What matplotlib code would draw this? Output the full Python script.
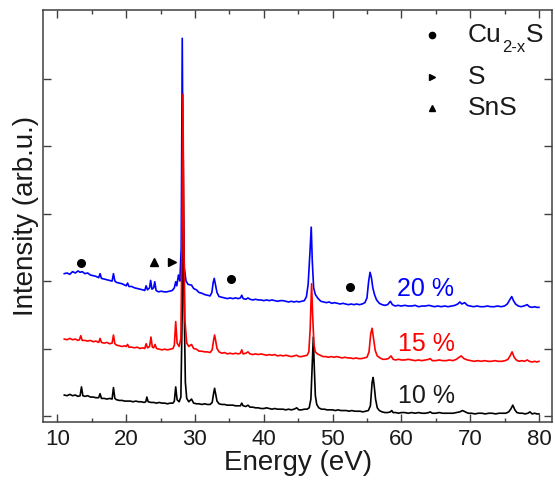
import matplotlib
matplotlib.use("Agg")
import matplotlib.pyplot as plt

plt.rcParams['font.family'] = ['Liberation Sans', 'DejaVu Sans']

# ---------------- data ----------------
black_x = [11.0, 11.4, 11.8, 12.2, 12.6, 13.0, 13.3, 13.5, 13.7, 14.0, 14.4, 14.8, 15.2, 15.6, 16.0, 16.2, 16.4,
           16.8, 17.2, 17.6, 17.95, 18.15, 18.35, 18.6, 19.0, 19.4, 19.8, 20.2, 20.6, 21.0, 21.4, 21.8, 22.2,
           22.6, 22.85, 23.0, 23.2, 23.6, 24.0, 24.4, 24.8, 25.2, 25.6, 26.0, 26.4, 26.8, 27.0, 27.2, 27.4,
           27.7, 27.95, 28.15, 28.3, 28.45, 28.6, 28.8, 29.1, 29.5, 29.8, 30.2, 30.6, 31.0, 31.4, 31.8, 32.2,
           32.5, 32.7, 32.85, 33.0, 33.2, 33.5, 33.9, 34.3, 34.7, 35.1, 35.5, 35.9, 36.3, 36.6, 36.8, 37.0,
           37.4, 37.7, 38.0, 38.4, 38.8, 39.2, 39.6, 40.0, 40.4, 40.8, 41.2, 41.6, 42.0, 42.4, 42.8, 43.2,
           43.6, 44.0, 44.4, 44.8, 45.1, 45.5, 45.9, 46.3, 46.6, 46.85, 47.05, 47.2, 47.35, 47.5, 47.7, 48.0,
           48.4, 48.8, 49.2, 49.6, 50.0, 50.4, 50.8, 51.2, 51.6, 52.0, 52.4, 52.8, 53.2, 53.6, 54.0, 54.4,
           54.8, 55.2, 55.5, 55.75, 55.9, 56.05, 56.25, 56.5, 56.8, 57.2, 57.6, 58.0, 58.4, 58.6, 58.8, 59.2,
           59.6, 60.0, 60.5, 61.0, 61.5, 62.0, 62.5, 63.0, 63.5, 64.0, 64.2, 64.5, 65.0, 65.5, 66.0, 66.5,
           67.0, 67.5, 68.0, 68.5, 68.9, 69.3, 69.7, 70.2, 70.7, 71.2, 71.7, 72.2, 72.7, 73.2, 73.7, 74.2,
           74.7, 75.2, 75.6, 75.9, 76.2, 76.5, 76.8, 77.2, 77.6, 78.0, 78.4, 78.7, 79.0, 79.4, 79.7, 80.0]
black_y = [0.31, 0.30, 0.32, 0.30, 0.31, 0.29, 0.30, 0.43, 0.30, 0.29, 0.30, 0.28, 0.28, 0.27, 0.27, 0.33, 0.26,
           0.26, 0.25, 0.26, 0.25, 0.42, 0.26, 0.24, 0.23, 0.23, 0.22, 0.22, 0.22, 0.21, 0.22, 0.21, 0.21,
           0.20, 0.21, 0.28, 0.21, 0.20, 0.20, 0.19, 0.20, 0.19, 0.19, 0.18, 0.19, 0.19, 0.22, 0.43, 0.24,
           0.21, 0.28, 1.60, 3.80, 1.50, 0.50, 0.26, 0.21, 0.25, 0.19, 0.18, 0.18, 0.17, 0.18, 0.17, 0.17,
           0.20, 0.33, 0.41, 0.33, 0.22, 0.18, 0.17, 0.17, 0.16, 0.16, 0.16, 0.15, 0.15, 0.15, 0.19, 0.15,
           0.14, 0.16, 0.13, 0.13, 0.12, 0.12, 0.11, 0.11, 0.12, 0.11, 0.10, 0.11, 0.10, 0.10, 0.10, 0.09,
           0.10, 0.09, 0.10, 0.12, 0.09, 0.09, 0.10, 0.10, 0.12, 0.25, 0.80, 1.17, 0.70, 0.30, 0.17, 0.12,
           0.10, 0.10, 0.09, 0.09, 0.09, 0.08, 0.09, 0.08, 0.08, 0.08, 0.07, 0.08, 0.07, 0.07, 0.07, 0.06,
           0.07, 0.08, 0.15, 0.50, 0.57, 0.45, 0.25, 0.12, 0.08, 0.06, 0.05, 0.05, 0.06, 0.08, 0.05, 0.05,
           0.04, 0.05, 0.05, 0.04, 0.05, 0.04, 0.05, 0.04, 0.04, 0.05, 0.06, 0.04, 0.04, 0.05, 0.04, 0.04,
           0.04, 0.04, 0.05, 0.06, 0.08, 0.06, 0.04, 0.04, 0.03, 0.04, 0.04, 0.03, 0.04, 0.04, 0.03, 0.04,
           0.04, 0.04, 0.06, 0.10, 0.16, 0.09, 0.05, 0.04, 0.04, 0.03, 0.04, 0.06, 0.03, 0.04, 0.03, 0.03]

red_x = [11.0, 11.4, 11.8, 12.2, 12.6, 13.0, 13.2, 13.4, 13.6, 14.0, 14.4, 14.8, 15.2, 15.6, 16.0, 16.2, 16.4,
         16.8, 17.2, 17.6, 17.95, 18.15, 18.35, 18.6, 19.0, 19.4, 19.8, 20.0, 20.2, 20.4, 20.8, 21.2, 21.6,
         22.0, 22.4, 22.7, 22.9, 23.1, 23.4, 23.6, 23.8, 24.0, 24.2, 24.4, 24.8, 25.2, 25.6, 26.0, 26.4,
         26.8, 27.0, 27.2, 27.4, 27.7, 27.95, 28.1, 28.25, 28.4, 28.55, 28.8, 29.1, 29.5, 29.8, 30.2, 30.6,
         31.0, 31.4, 31.8, 32.2, 32.5, 32.7, 32.85, 33.0, 33.2, 33.5, 33.9, 34.3, 34.7, 35.1, 35.5, 35.9,
         36.3, 36.6, 36.8, 37.0, 37.4, 37.7, 38.0, 38.4, 38.8, 39.2, 39.6, 40.0, 40.4, 40.8, 41.2, 41.6,
         42.0, 42.4, 42.8, 43.2, 43.6, 44.0, 44.4, 44.8, 45.1, 45.5, 45.9, 46.3, 46.55, 46.75, 46.95, 47.1,
         47.3, 47.5, 47.8, 48.2, 48.6, 49.0, 49.4, 49.8, 50.2, 50.6, 51.0, 51.4, 51.8, 52.2, 52.6, 53.0,
         53.4, 53.8, 54.2, 54.6, 55.0, 55.3, 55.55, 55.75, 55.95, 56.2, 56.5, 56.9, 57.3, 57.7, 58.1, 58.5,
         58.8, 59.2, 59.6, 60.0, 60.5, 61.0, 61.5, 62.0, 62.5, 63.0, 63.5, 64.0, 64.2, 64.5, 65.0, 65.5,
         66.0, 66.5, 67.0, 67.5, 68.0, 68.4, 68.7, 69.1, 69.6, 70.1, 70.6, 71.1, 71.6, 72.1, 72.6, 73.1,
         73.6, 74.1, 74.6, 75.1, 75.5, 75.8, 76.1, 76.4, 76.7, 77.1, 77.5, 77.9, 78.3, 78.6, 79.0, 79.4,
         79.7, 80.0]
red_y = [1.14, 1.13, 1.15, 1.13, 1.14, 1.12, 1.13, 1.19, 1.12, 1.12, 1.11, 1.12, 1.10, 1.11, 1.09, 1.15, 1.09,
         1.08, 1.09, 1.07, 1.08, 1.20, 1.07, 1.05, 1.04, 1.03, 1.04, 1.03, 1.06, 1.02, 1.02, 1.01, 1.02,
         1.00, 1.01, 1.00, 1.07, 1.01, 1.03, 1.17, 1.02, 1.01, 1.06, 1.00, 0.99, 0.98, 0.99, 0.98, 0.99,
         1.00, 1.05, 1.40, 1.08, 1.03, 1.15, 2.50, 4.77, 2.40, 1.40, 1.08, 1.03, 1.06, 1.00, 0.99, 0.96,
         0.96, 0.95, 0.95, 0.94, 0.98, 1.12, 1.20, 1.12, 1.00, 0.95, 0.93, 0.94, 0.92, 0.93, 0.92, 0.93,
         0.92, 0.93, 0.98, 0.92, 0.93, 0.95, 0.92, 0.91, 0.92, 0.91, 0.92, 0.91, 0.90, 0.91, 0.90, 0.91,
         0.89, 0.90, 0.89, 0.90, 0.89, 0.88, 0.89, 0.90, 0.88, 0.88, 0.89, 0.90, 0.95, 1.30, 1.96, 1.50,
         1.05, 0.95, 0.92, 0.90, 0.88, 0.88, 0.87, 0.88, 0.87, 0.88, 0.87, 0.86, 0.87, 0.86, 0.86, 0.85,
         0.86, 0.85, 0.85, 0.86, 0.87, 0.95, 1.22, 1.30, 1.15, 0.97, 0.89, 0.86, 0.84, 0.84, 0.85, 0.89,
         0.84, 0.83, 0.84, 0.83, 0.83, 0.84, 0.83, 0.82, 0.83, 0.82, 0.83, 0.84, 0.85, 0.82, 0.82, 0.83,
         0.82, 0.82, 0.83, 0.82, 0.84, 0.87, 0.89, 0.85, 0.83, 0.82, 0.81, 0.82, 0.81, 0.82, 0.81, 0.81,
         0.82, 0.81, 0.81, 0.82, 0.84, 0.89, 0.95, 0.87, 0.83, 0.81, 0.82, 0.81, 0.83, 0.81, 0.80, 0.81,
         0.80, 0.81]

blue_x = [11.0, 11.4, 11.8, 12.2, 12.6, 13.0, 13.3, 13.6, 14.0, 14.4, 14.8, 15.2, 15.6, 16.0, 16.2, 16.4, 16.8,
          17.2, 17.6, 17.95, 18.15, 18.35, 18.6, 19.0, 19.4, 19.8, 20.0, 20.2, 20.4, 20.8, 21.2, 21.6, 22.0,
          22.4, 22.7, 22.9, 23.1, 23.4, 23.55, 23.75, 24.0, 24.15, 24.35, 24.7, 25.1, 25.5, 25.9, 26.3, 26.7,
          27.0, 27.2, 27.35, 27.6, 27.8, 28.0, 28.15, 28.3, 28.45, 28.7, 29.0, 29.5, 29.8, 30.2, 30.6, 31.0,
          31.4, 31.8, 32.2, 32.45, 32.65, 32.8, 32.95, 33.2, 33.5, 33.9, 34.3, 34.7, 35.1, 35.5, 35.9, 36.3,
          36.6, 36.8, 37.0, 37.4, 37.7, 38.0, 38.4, 38.8, 39.2, 39.6, 40.0, 40.4, 40.8, 41.2, 41.6, 42.0,
          42.4, 42.8, 43.2, 43.6, 44.0, 44.4, 44.8, 45.1, 45.5, 45.9, 46.2, 46.45, 46.7, 46.9, 47.05, 47.25,
          47.5, 47.9, 48.3, 48.7, 49.1, 49.5, 49.9, 50.3, 50.7, 51.1, 51.5, 51.9, 52.3, 52.7, 53.1, 53.5,
          53.9, 54.3, 54.7, 55.0, 55.25, 55.45, 55.65, 55.85, 56.1, 56.4, 56.8, 57.2, 57.6, 58.0, 58.4, 58.7,
          59.1, 59.5, 60.0, 60.5, 61.0, 61.5, 62.0, 62.5, 63.0, 63.5, 64.0, 64.4, 64.8, 65.3, 65.8, 66.3,
          66.8, 67.3, 67.8, 68.2, 68.5, 68.8, 69.2, 69.6, 70.0, 70.5, 71.0, 71.5, 72.0, 72.5, 73.0, 73.5,
          74.0, 74.5, 75.0, 75.4, 75.8, 76.05, 76.3, 76.6, 77.0, 77.4, 77.8, 78.3, 78.6, 79.0, 79.4, 79.7, 80.0]
blue_y = [2.11, 2.12, 2.10, 2.14, 2.12, 2.15, 2.13, 2.14, 2.11, 2.12, 2.09, 2.08, 2.07, 2.05, 2.11, 2.04, 2.03,
          2.02, 2.01, 2.00, 2.11, 2.00, 1.98, 1.97, 1.96, 1.94, 1.93, 1.97, 1.92, 1.92, 1.90, 1.89, 1.88,
          1.87, 1.86, 1.93, 1.87, 1.90, 2.01, 1.88, 1.90, 1.99, 1.86, 1.84, 1.85, 1.84, 1.84, 1.85, 1.86,
          1.90, 1.99, 1.93, 2.09, 2.00, 2.50, 5.60, 3.00, 2.20, 2.00, 1.95, 1.94, 1.89, 1.87, 1.83, 1.82,
          1.80, 1.79, 1.78, 1.83, 1.98, 2.04, 1.96, 1.83, 1.77, 1.76, 1.75, 1.74, 1.75, 1.74, 1.75, 1.74,
          1.75, 1.79, 1.74, 1.73, 1.75, 1.73, 1.72, 1.73, 1.72, 1.72, 1.71, 1.72, 1.71, 1.72, 1.71, 1.70,
          1.71, 1.71, 1.70, 1.69, 1.70, 1.69, 1.70, 1.69, 1.70, 1.71, 1.77, 1.95, 2.40, 2.80, 2.30, 1.90,
          1.80, 1.74, 1.70, 1.69, 1.68, 1.69, 1.67, 1.68, 1.67, 1.66, 1.67, 1.66, 1.65, 1.66, 1.65, 1.66,
          1.65, 1.66, 1.68, 1.75, 2.00, 2.13, 2.05, 1.90, 1.80, 1.72, 1.67, 1.65, 1.64, 1.65, 1.70, 1.65,
          1.63, 1.64, 1.63, 1.64, 1.63, 1.63, 1.64, 1.62, 1.63, 1.63, 1.64, 1.63, 1.62, 1.63, 1.62, 1.63,
          1.62, 1.63, 1.64, 1.66, 1.69, 1.66, 1.68, 1.64, 1.63, 1.62, 1.63, 1.62, 1.62, 1.63, 1.62, 1.62,
          1.63, 1.62, 1.63, 1.66, 1.73, 1.77, 1.71, 1.66, 1.63, 1.62, 1.63, 1.65, 1.62, 1.61, 1.62, 1.61, 1.61]

series_labels = ["10 %", "15 %", "20 %"]
series_colors = ["black", "#ff0000", "#0000ff"]

# phase markers (peak identification)
cu_x = [13.4, 35.25, 52.5]
cu_y = [2.27, 2.03, 1.91]
s_x = [26.7]
s_y = [2.28]
sns_x = [24.1]
sns_y = [2.28]

x_ticks = [10, 20, 30, 40, 50, 60, 70, 80]
y_ticks = [0, 1, 2, 3, 4, 5]

# ---------------- figure ----------------
fig = plt.figure(figsize=(5.55, 4.82), dpi=100)
ax = fig.add_axes([43.3 / 555, 60 / 482, 508.7 / 555, 412 / 482])

ax.plot(blue_x, blue_y, color=series_colors[2], lw=1.2, zorder=2)
ax.plot(black_x, black_y, color=series_colors[0], lw=1.2, zorder=3)
ax.plot(red_x, red_y, color=series_colors[1], lw=1.2, zorder=4)

ax.plot(cu_x, cu_y, 'o', color='black', ms=5.5, zorder=5)
ax.plot(s_x, s_y, '>', color='black', ms=6, zorder=5)
ax.plot(sns_x, sns_y, '^', color='black', ms=6, zorder=5)

ax.set_xlim(7.95, 81.9)
ax.set_ylim(-0.09, 6.02)
ax.set_xticks(x_ticks)
ax.set_xticks([15, 25, 35, 45, 55, 65, 75], minor=True)
ax.set_yticks(y_ticks)
ax.set_yticklabels([])

spine_c = '#404040'
for sp in ax.spines.values():
    sp.set_color(spine_c)
    sp.set_linewidth(1.1)
ax.tick_params(axis='both', which='both', direction='in', color=spine_c, width=1.0,
               top=True, right=True)
ax.tick_params(axis='x', which='major', length=5.5, labelsize=16, pad=5, labelcolor='#1a1a1a')
ax.tick_params(axis='x', which='minor', length=2.8)
ax.tick_params(axis='y', which='major', length=5.5)

ax.set_xlabel('Energy (eV)', fontsize=20, color='#1a1a1a', labelpad=0)
ax.set_ylabel('Intensity (arb.u.)', fontsize=20, color='#1a1a1a')
ax.yaxis.set_label_coords(-0.008, 0.5)

# series labels
ax.text(59.4, 1.88, series_labels[2], color=series_colors[2], fontsize=18, ha='left', va='center')
ax.text(59.5, 1.07, series_labels[1], color=series_colors[1], fontsize=18, ha='left', va='center')
ax.text(59.5, 0.30, series_labels[0], color='#1a1a1a', fontsize=18, ha='left', va='center')

# legend (manual)
lx_m, lx_t = 0.764, 0.835
rows = [0.939, 0.837, 0.762]
ax.plot([lx_m], [rows[0]], 'o', color='black', ms=4.5, transform=ax.transAxes)
ax.plot([lx_m], [rows[1]], '>', color='black', ms=5, transform=ax.transAxes)
ax.plot([lx_m], [rows[2]], '^', color='black', ms=5, transform=ax.transAxes)
t_cu = ax.text(lx_t, rows[0], 'Cu', fontsize=19, ha='left', va='center',
               transform=ax.transAxes, color='#1a1a1a')
t_sub = ax.annotate('2-x', xy=(1, 0), xycoords=t_cu, xytext=(0.5, -5.5), textcoords='offset points',
                    fontsize=12, ha='left', va='bottom', color='#1a1a1a')
ax.annotate('S', xy=(1, 0), xycoords=t_sub, xytext=(0, 5.5), textcoords='offset points',
            fontsize=19, ha='left', va='bottom', color='#1a1a1a')
ax.text(lx_t, rows[1], 'S', fontsize=19, ha='left', va='center', transform=ax.transAxes, color='#1a1a1a')
ax.text(lx_t, rows[2], 'SnS', fontsize=19, ha='left', va='center', transform=ax.transAxes, color='#1a1a1a')

fig.savefig('out.png', dpi=100)
